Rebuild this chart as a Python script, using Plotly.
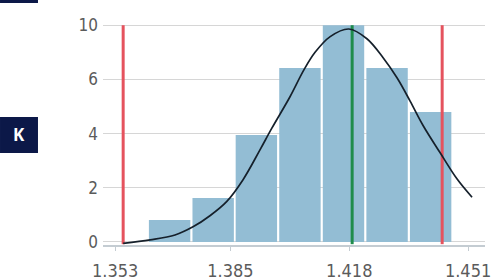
import plotly.graph_objects as go

# ---- data ----
bin_centers = [1.3681, 1.3802, 1.3922, 1.4043, 1.4164, 1.4285, 1.4406]
bin_counts = [0.81, 1.62, 3.95, 6.42, 8.0, 6.42, 4.80]
bar_width = 0.0115

curve_x = [1.3552, 1.3627, 1.3696, 1.3746, 1.3793, 1.3840, 1.3885, 1.3932,
           1.3965, 1.4015, 1.4054, 1.4085, 1.4127, 1.4179, 1.4229, 1.4274,
           1.4313, 1.4349, 1.4385, 1.4432, 1.4479, 1.4521]
curve_y = [-0.05, 0.08, 0.26, 0.56, 0.97, 1.50, 2.30, 3.40,
           4.20, 5.35, 6.35, 7.00, 7.58, 7.86, 7.50, 6.80,
           6.05, 5.20, 4.30, 3.30, 2.33, 1.65]

lsl = 1.3552
usl = 1.4438
target = 1.4188
line_top = 8.0
line_bottom = -0.08

x_tick_vals = [1.353, 1.385, 1.418, 1.451]
x_tick_text = ["1.353", "1.385", "1.418", "1.451"]
y_tick_vals = [0, 2, 4, 6, 8]
y_tick_text = ["0", "2", "4", "6", "10"]

x_range = [1.3496, 1.4557]
y_range = [-0.111, 8.266]

font_fam = "DejaVu Sans Condensed, DejaVu Sans, sans-serif"

fig = go.Figure()
fig.add_trace(go.Bar(x=bin_centers, y=bin_counts, width=bar_width,
                     marker=dict(color="#93bdd4", line=dict(width=0)),
                     hoverinfo="skip"))
for xv, col in [(lsl, "#e5535e"), (usl, "#e5535e"), (target, "#1e8c4c")]:
    fig.add_trace(go.Scatter(x=[xv, xv], y=[line_bottom, line_top], mode="lines",
                             line=dict(color=col, width=3), hoverinfo="skip"))
fig.add_trace(go.Scatter(x=curve_x, y=curve_y, mode="lines",
                         line=dict(color="#15202b", width=1.7, shape="spline", smoothing=1.0),
                         hoverinfo="skip"))

fig.update_layout(
    width=498, height=280,
    margin=dict(l=103, r=13, t=18, b=35),
    paper_bgcolor="white", plot_bgcolor="white",
    showlegend=False,
    hovermode=False,
    font=dict(family=font_fam, color="#5b5b5b"),
    xaxis=dict(range=x_range, tickvals=x_tick_vals, ticktext=x_tick_text,
               showgrid=False, zeroline=False, showline=True, automargin=False,
               linecolor="#c4ccd2", linewidth=2, ticks="outside", ticklen=4,
               tickcolor="#c4ccd2", tickfont=dict(size=18, family=font_fam, color="#5b5b5b"),
               ticklabelstandoff=4),
    yaxis=dict(range=y_range, tickvals=y_tick_vals, ticktext=y_tick_text,
               showgrid=True, gridcolor="#d6d6d6", gridwidth=1, zeroline=False,
               showline=False, ticks="", automargin=False,
               tickfont=dict(size=17, family=font_fam, color="#5b5b5b"),
               ticklabelstandoff=4),
    shapes=[
        dict(type="rect", xref="paper", yref="paper",
             x0=-0.2696, x1=-0.1702, y0=0.4053, y1=0.5639,
             fillcolor="#0c1848", line=dict(width=0), layer="above"),
        dict(type="rect", xref="paper", yref="paper",
             x0=-0.2696, x1=-0.1702, y0=1.0661, y1=1.08,
             fillcolor="#0c1848", line=dict(width=0), layer="above"),
    ],
    annotations=[
        dict(text="<b>K</b>", xref="paper", yref="paper", x=-0.2199, y=0.4846,
             xanchor="center", yanchor="middle", showarrow=False,
             font=dict(color="white", size=17, family="Open Sans, sans-serif")),
    ],
)

fig.write_html("out.html", config={"displayModeBar": False, "staticPlot": True},
               post_script="document.body.style.margin='0px';document.body.style.overflow='hidden';")
